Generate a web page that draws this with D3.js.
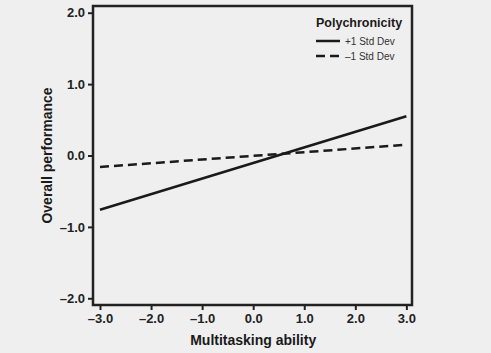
<!DOCTYPE html>
<html>
<head>
<meta charset="utf-8">
<script src="https://cdn.jsdelivr.net/npm/d3@7"></script>
<style>
  body { margin: 0; background: #efefef; }
  svg { display: block; font-family: "Liberation Sans", Arial, sans-serif; }
</style>
</head>
<body>
<svg id="chart"></svg>
<script>
// data
var xEnds = [-3, 3];
var highPoly = [-0.76, 0.55];   // +1 Std Dev
var lowPoly = [-0.16, 0.15];    // -1 Std Dev
var seriesNames = ["+1 Std Dev", "\u20131 Std Dev"];
var xTicks = [-3, -2, -1, 0, 1, 2, 3];
var yTicks = [-2, -1, 0, 1, 2];

var W = 491, H = 353;
var margin = {top: 6, right: 79, bottom: 48, left: 93},
    width = W - margin.left - margin.right,
    height = H - margin.top - margin.bottom;

var svg = d3.select("#chart")
    .attr("width", W)
    .attr("height", H);

svg.append("rect")
    .attr("width", W).attr("height", H)
    .style("fill", "#efefef");

var chart = svg.append("g")
    .attr("transform", "translate(" + margin.left + "," + margin.top + ")");

var x = d3.scaleLinear().domain([-3.137, 3.11]).range([0, width]);
var y = d3.scaleLinear().domain([-2.094, 2.094]).range([height, 0]);

function fmt(d) {
  var s = d3.format(".1f")(Math.abs(d));
  return d < 0 ? "\u2013" + s : s;
}

// axes
var xAxis = chart.append("g")
    .attr("transform", "translate(0," + height + ")")
    .call(d3.axisBottom(x).tickValues(xTicks).tickFormat(fmt).tickSize(5).tickPadding(4));
var yAxis = chart.append("g")
    .call(d3.axisLeft(y).tickValues(yTicks).tickFormat(fmt).tickSize(5).tickPadding(3));

[xAxis, yAxis].forEach(function(a) {
  a.select(".domain").remove();
  a.selectAll("line").style("stroke", "#222").style("stroke-width", 2);
  a.selectAll("text")
      .style("font-size", "13px")
      .style("font-weight", "bold")
      .style("fill", "#222");
});

// frame
chart.append("rect")
    .attr("width", width).attr("height", height)
    .style("fill", "none")
    .style("stroke", "#222")
    .style("stroke-width", 2.5);

// lines
var line = d3.line()
    .x(function(d, i) { return x(xEnds[i]); })
    .y(function(d) { return y(d); });

chart.append("path")
    .datum(highPoly)
    .attr("d", line)
    .style("fill", "none")
    .style("stroke", "#1a1a1a")
    .style("stroke-width", 2.5);

chart.append("path")
    .datum(lowPoly)
    .attr("d", line)
    .style("fill", "none")
    .style("stroke", "#1a1a1a")
    .style("stroke-width", 2.5)
    .style("stroke-dasharray", "9,5");

// legend
var legend = chart.append("g")
    .attr("transform", "translate(" + (316 - margin.left) + "," + (27 - margin.top) + ")");

legend.append("text")
    .attr("x", 0).attr("y", 0)
    .style("font-size", "12.5px")
    .style("font-weight", "bold")
    .style("fill", "#1a1a1a")
    .text("Polychronicity");

seriesNames.forEach(function(name, i) {
  var ly = 14 + i * 15;
  legend.append("line")
      .attr("x1", 0).attr("x2", 24)
      .attr("y1", ly).attr("y2", ly)
      .style("stroke", "#1a1a1a")
      .style("stroke-width", 2.5)
      .style("stroke-dasharray", i === 0 ? null : "9,5");
  legend.append("text")
      .attr("x", 29).attr("y", ly + 3.5)
      .style("font-size", "10px")
      .style("fill", "#333")
      .text(name);
});

// axis titles
svg.append("text")
    .attr("x", x(0) + margin.left)
    .attr("y", 345)
    .attr("text-anchor", "middle")
    .style("font-size", "14px")
    .style("font-weight", "bold")
    .style("fill", "#1a1a1a")
    .text("Multitasking ability");

svg.append("text")
    .attr("transform", "translate(52," + (y(0) + margin.top) + ") rotate(-90)")
    .attr("text-anchor", "middle")
    .style("font-size", "14px")
    .style("font-weight", "bold")
    .style("fill", "#1a1a1a")
    .text("Overall performance");
</script>
</body>
</html>
